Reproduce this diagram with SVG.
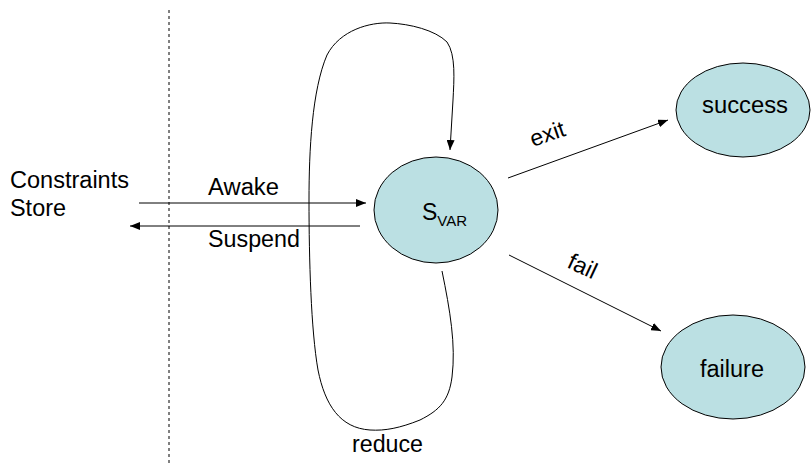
<svg xmlns="http://www.w3.org/2000/svg" width="812" height="475" viewBox="0 0 812 475">
<style>
text{font-family:"Liberation Sans",Arial,sans-serif;font-size:23px;fill:#000}
.node{fill:#BBE0E3;stroke:#000;stroke-width:1}
.edge{fill:none;stroke:#000;stroke-width:1}
</style>
<defs>
<marker id="ah" markerWidth="10" markerHeight="8" refX="10" refY="4" orient="auto" markerUnits="userSpaceOnUse">
<path d="M0,0 L10,4 L0,8 Z" fill="#000"/>
</marker>
</defs>
<rect width="812" height="475" fill="#fff"/>
<line x1="169" y1="10" x2="169" y2="466" stroke="#000" stroke-width="1" stroke-dasharray="3,3"/>
<g id="store">
<text x="10" y="188" textLength="119" lengthAdjust="spacingAndGlyphs">Constraints</text>
<text x="10" y="216" textLength="56" lengthAdjust="spacingAndGlyphs">Store</text>
</g>
<g id="connectors">
<line class="edge" x1="139" y1="203" x2="366" y2="203" marker-end="url(#ah)"/>
<line class="edge" x1="360" y1="226" x2="130" y2="226" marker-end="url(#ah)"/>
<path class="edge" d="M442,271 C450,310 456,345 452,377 C449,400 440,410 420,420 C400,428 385,431 370,430 C340,428 325,405 318,370 C311,330 309,260 309,200 C309,150 312,90 327,55 C340,30 370,22 390,23 C410,24 435,30 447,42 C456,55 454,80 453,100 L450,150" marker-end="url(#ah)"/>
<line class="edge" x1="508" y1="178" x2="668" y2="120" marker-end="url(#ah)"/>
<line class="edge" x1="509" y1="255" x2="661" y2="331" marker-end="url(#ah)"/>
<text x="208" y="195" textLength="71" lengthAdjust="spacingAndGlyphs">Awake</text>
<text x="208" y="247" textLength="92" lengthAdjust="spacingAndGlyphs">Suspend</text>
<text x="352" y="452" textLength="71" lengthAdjust="spacingAndGlyphs">reduce</text>
<text transform="translate(533,147) rotate(-19)">exit</text>
<text transform="translate(566,267) rotate(25)">fail</text>
</g>
<g id="svar">
<ellipse class="node" cx="436" cy="210" rx="62" ry="53"/>
<text x="422" y="220">S<tspan font-size="15" y="226">VAR</tspan></text>
</g>
<g id="success">
<ellipse class="node" cx="743" cy="110" rx="67" ry="47"/>
<text x="702" y="113" textLength="86" lengthAdjust="spacingAndGlyphs">success</text>
</g>
<g id="failure">
<ellipse class="node" cx="733" cy="367" rx="72" ry="52"/>
<text x="700" y="377" textLength="64" lengthAdjust="spacingAndGlyphs">failure</text>
</g>
</svg>
